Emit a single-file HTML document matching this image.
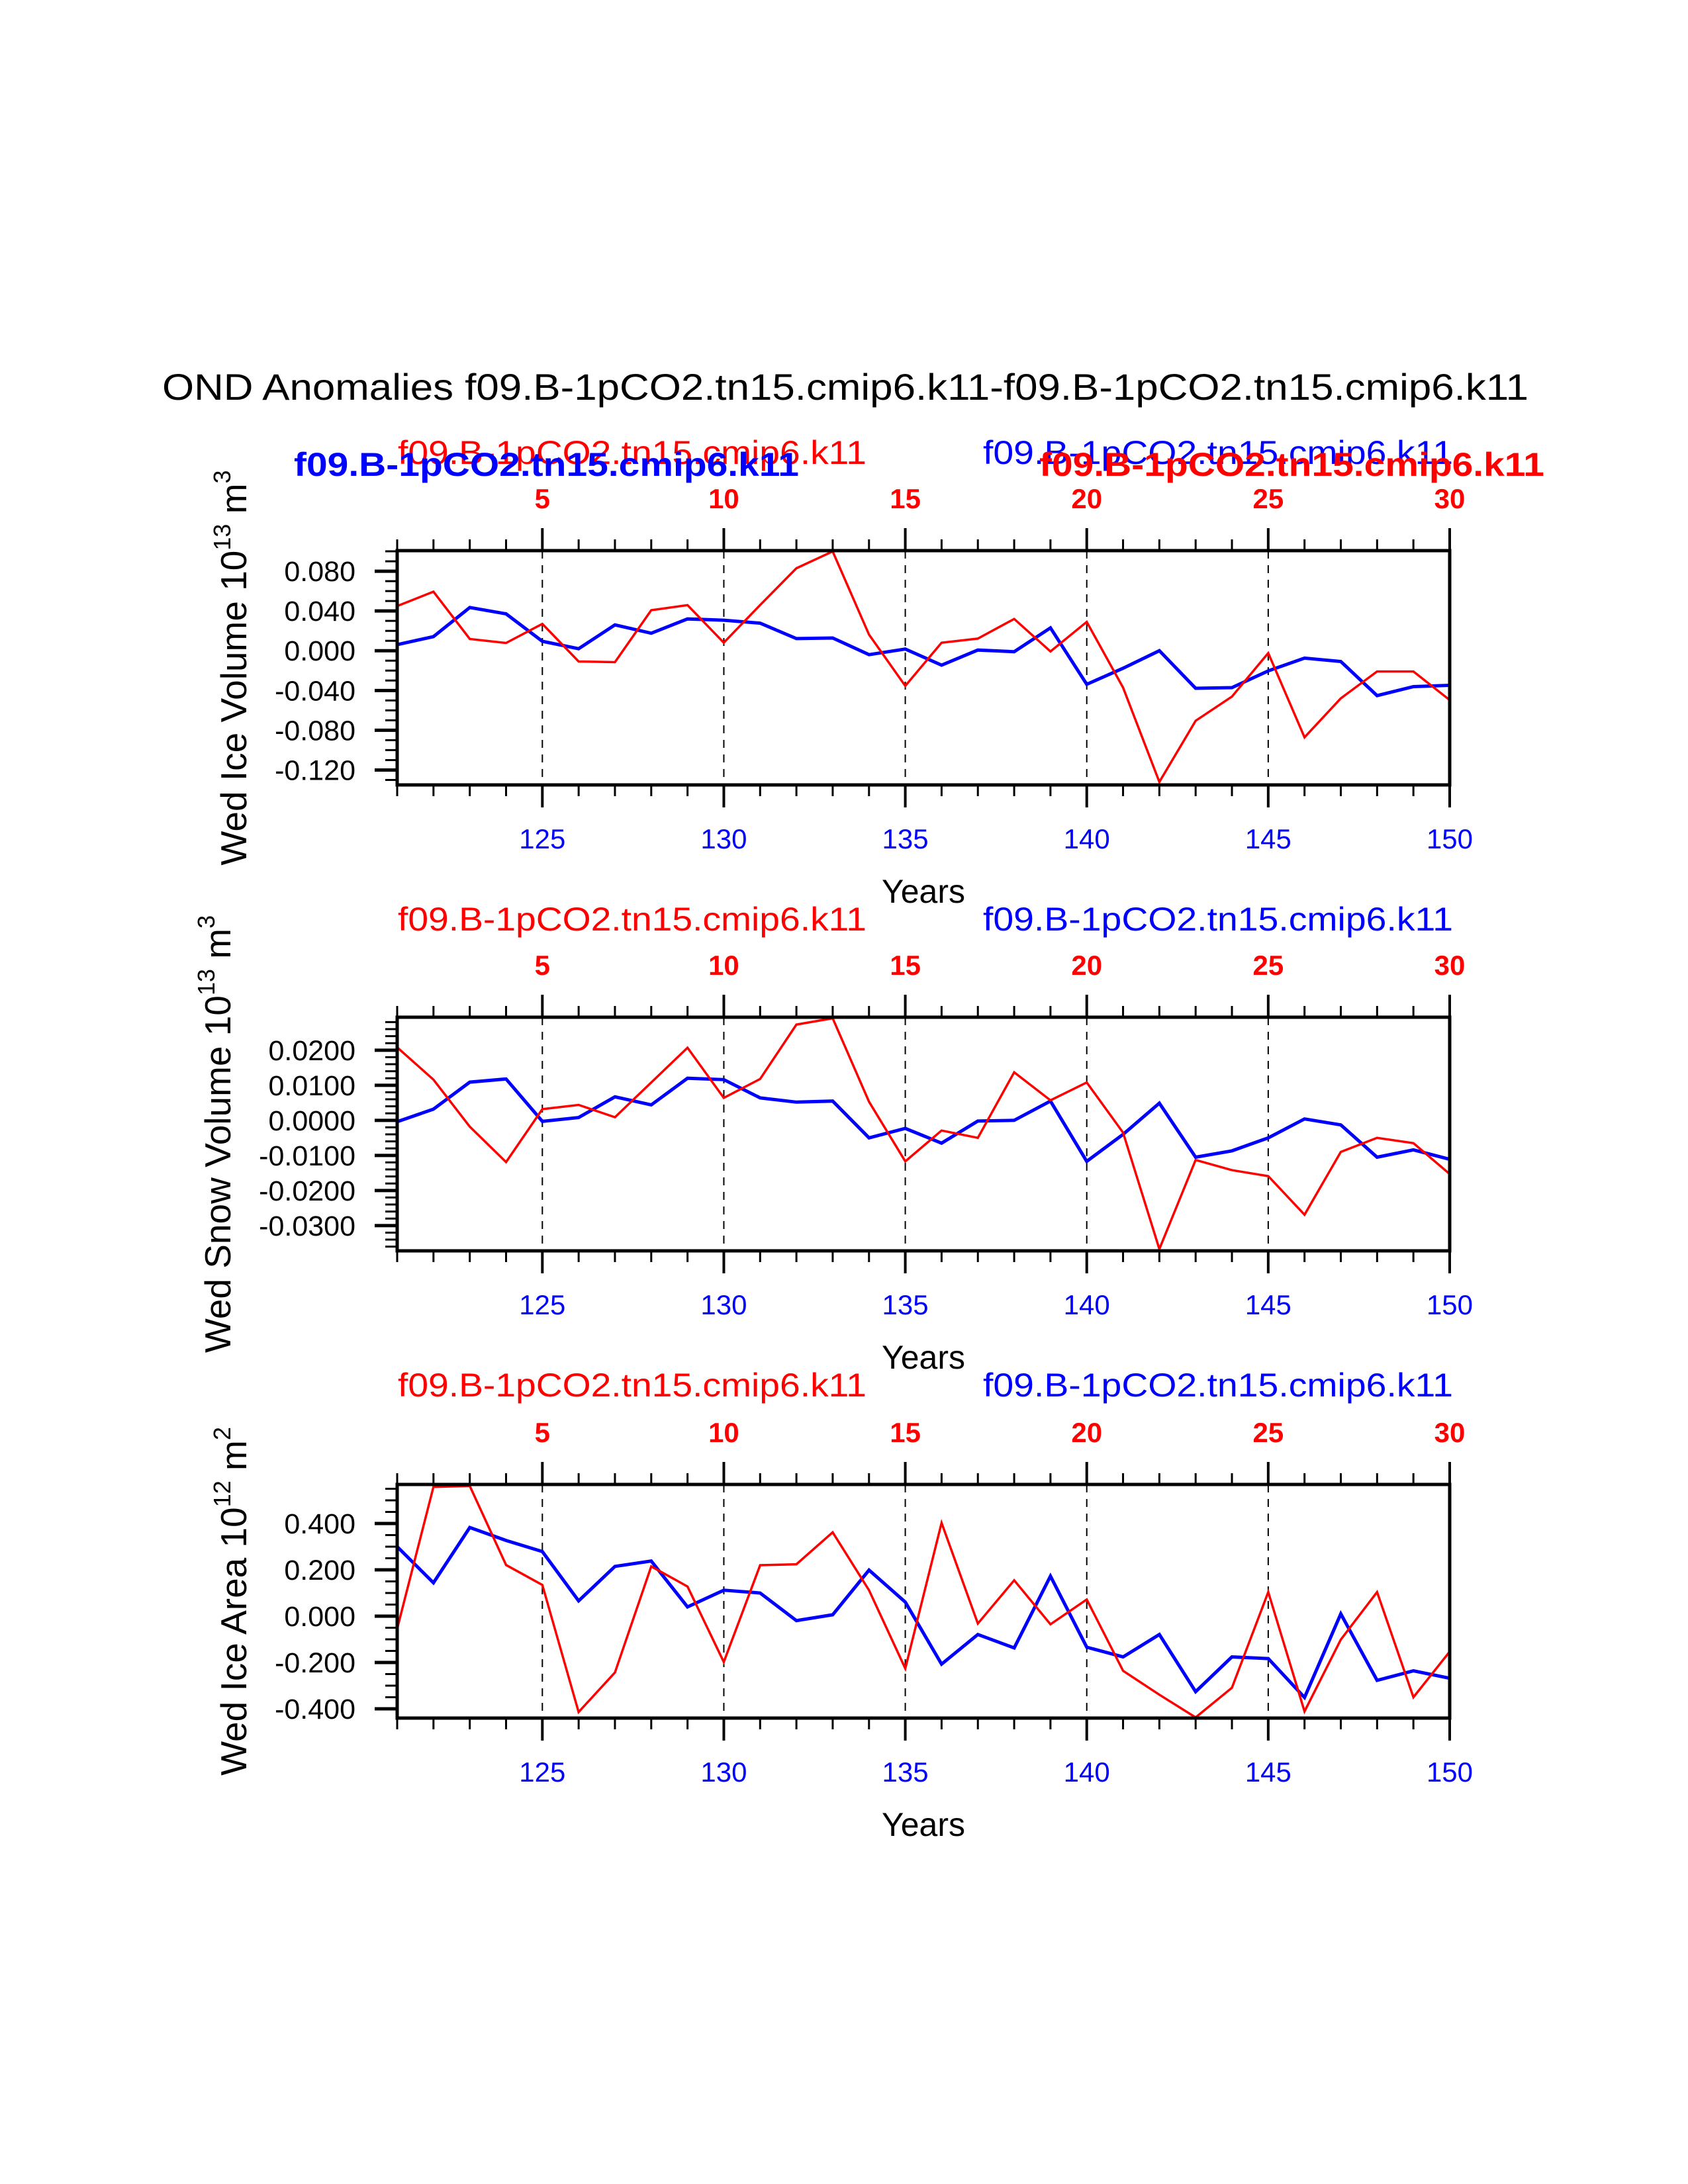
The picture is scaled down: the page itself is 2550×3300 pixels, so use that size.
<!DOCTYPE html>
<html><head><meta charset="utf-8">
<style>
html,body{margin:0;padding:0;background:#fff;}
svg{display:block;font-family:"Liberation Sans",Arial,sans-serif;}
</style></head>
<body>
<svg id="chart" width="2550" height="3300" viewBox="0 0 2550 3300" xmlns="http://www.w3.org/2000/svg">
<rect width="2550" height="3300" fill="#fff"/>
<text x="1277" y="604" font-size="56" text-anchor="middle" textLength="2064" lengthAdjust="spacingAndGlyphs">OND Anomalies f09.B-1pCO2.tn15.cmip6.k11-f09.B-1pCO2.tn15.cmip6.k11</text>
</svg>
<script>
const years = [121,122,123,124,125,126,127,128,129,130,131,132,133,134,135,136,137,138,139,140,141,142,143,144,145,146,147,148,149,150];
const bottomTicks = [125,130,135,140,145,150];
const topTickLabels = ["5","10","15","20","25","30"];

const iceVolRed = [0.0449,0.0594,0.0118,0.0078,0.027,-0.0108,-0.0115,0.0408,0.0459,0.0081,0.046,0.083,0.0999,0.0162,-0.0354,0.0081,0.0122,0.032,-0.0007,0.029,-0.0371,-0.132,-0.0705,-0.0462,-0.0024,-0.0871,-0.0479,-0.0209,-0.0209,-0.0496];
const iceVolBlue = [0.0061,0.0142,0.0435,0.0371,0.0095,0.002,0.026,0.0176,0.032,0.0307,0.0277,0.0122,0.0128,-0.004,0.0017,-0.0145,0.0007,-0.001,0.023,-0.0338,-0.0176,0,-0.0378,-0.0371,-0.0203,-0.0074,-0.0108,-0.0452,-0.0361,-0.0348];
const iceVolTicks = [0.08,0.04,0,-0.04,-0.08,-0.12];
const iceVolTickLabels = ["0.080","0.040","0.000","-0.040","-0.080","-0.120"];

const snowRed = [0.0208,0.0116,-0.0018,-0.0119,0.0032,0.0044,0.0009,0.0108,0.0207,0.0064,0.0118,0.0273,0.0291,0.0053,-0.0117,-0.0029,-0.005,0.0137,0.0057,0.0108,-0.0035,-0.0367,-0.0113,-0.0142,-0.0159,-0.0269,-0.009,-0.005,-0.0065,-0.0153];
const snowBlue = [-0.0004,0.0032,0.0109,0.0118,-0.0003,0.0008,0.0067,0.0044,0.012,0.0116,0.0064,0.0052,0.0055,-0.005,-0.0023,-0.0065,-0.0002,0,0.0055,-0.0117,-0.004,0.0049,-0.0105,-0.0087,-0.005,0.0004,-0.0013,-0.0105,-0.0084,-0.0111];
const snowTicks = [0.02,0.01,0,-0.01,-0.02,-0.03];
const snowTickLabels = ["0.0200","0.0100","0.0000","-0.0100","-0.0200","-0.0300"];

const areaRed = [-0.054,0.558,0.562,0.221,0.135,-0.414,-0.243,0.215,0.128,-0.198,0.220,0.224,0.362,0.112,-0.226,0.403,-0.032,0.155,-0.035,0.072,-0.236,-0.339,-0.437,-0.309,0.104,-0.411,-0.101,0.104,-0.350,-0.153];
const areaBlue = [0.300,0.144,0.383,0.327,0.279,0.066,0.215,0.238,0.040,0.112,0.100,-0.019,0.006,0.199,0.061,-0.207,-0.079,-0.137,0.173,-0.134,-0.176,-0.079,-0.326,-0.176,-0.183,-0.351,0.010,-0.277,-0.236,-0.268];
const areaTicks = [0.4,0.2,0,-0.2,-0.4];
const areaTickLabels = ["0.400","0.200","0.000","-0.200","-0.400"];

const NS = "http://www.w3.org/2000/svg";
const svg = document.getElementById("chart");
function mk(tag, attrs, parent){
  const e = document.createElementNS(NS, tag);
  for (const k in attrs) e.setAttribute(k, attrs[k]);
  (parent||svg).appendChild(e);
  return e;
}
const X0 = 600, X1 = 2190;
function xs(yr){ return X0 + (yr - 121) / (150 - 121) * (X1 - X0); }

function panel(cfg){
  const g = mk("g", {});
  
  
  const T = cfg.top, B = cfg.bottom;
  const ys = v => T + (cfg.vmax - v) / (cfg.vmax - cfg.vmin) * (B - T);
  bottomTicks.slice(0,5).forEach(yr => {
    const l = mk("line", {x1:xs(yr), x2:xs(yr), y1:T, y2:B, stroke:"#000", "stroke-width":2, "stroke-dasharray":"12,10"}, g);
    
    
  });
  [[cfg.blue,"#0000ff",5,"blue-series"],[cfg.red,"#ff0000",3.5,"red-series"]].forEach(s => {
    const pts = years.map((yr,i) => xs(yr).toFixed(1) + "," + ys(s[0][i]).toFixed(1)).join(" ");
    const p = mk("polyline", {points:pts, fill:"none", stroke:s[1], "stroke-width":s[2], "stroke-linejoin":"miter"}, g);
    
    
  });
  const f = mk("rect", {x:X0, y:T, width:X1-X0, height:B-T, fill:"none", stroke:"#000", "stroke-width":5}, g);
  
  
  years.forEach(yr => {
    const major = yr % 5 === 0;
    const len = major ? 34 : 17;
    mk("line", {x1:xs(yr), x2:xs(yr), y1:T, y2:T-len, stroke:"#000", "stroke-width":major?4:3}, g);
    mk("line", {x1:xs(yr), x2:xs(yr), y1:B, y2:B+len, stroke:"#000", "stroke-width":major?4:3}, g);
  });
  bottomTicks.forEach((yr,i) => {
    const t = mk("text", {x:xs(yr), y:B+96, "font-size":42, fill:"#0000ff", "text-anchor":"middle"}, g);
    t.textContent = String(yr);
    
    
    const t2 = mk("text", {x:xs(yr), y:T-64, "font-size":42, "font-weight":"bold", fill:"#ff0000", "text-anchor":"middle"}, g);
    t2.textContent = topTickLabels[i];
    
    
  });
  const start = Math.ceil(cfg.vmin / cfg.minor - 1e-6);
  for (let k = start; k * cfg.minor <= cfg.vmax + 1e-9; k++){
    const y = ys(k * cfg.minor);
    mk("line", {x1:X0, x2:X0-18, y1:y, y2:y, stroke:"#000", "stroke-width":3}, g);
  }
  cfg.ticks.forEach((v,i) => {
    const y = ys(v);
    mk("line", {x1:X0, x2:X0-34, y1:y, y2:y, stroke:"#000", "stroke-width":5}, g);
    const t = mk("text", {x:537, y:y+15, "font-size":43, "text-anchor":"end"}, g);
    t.textContent = cfg.tickLabels[i];
    
    
  });
  const yt = mk("text", {transform:"translate(" + cfg.titleX + "," + ((T+B)/2) + ") rotate(-90)", "font-size":55, "text-anchor":"middle"}, g);
  
  
  const parts = [[cfg.title,0],[cfg.exp1,1],[" m",0],[cfg.exp2,1]];
  parts.forEach(p => {
    const ts = mk("tspan", {}, yt);
    if (p[1]) { ts.setAttribute("font-size", "36"); ts.setAttribute("dy", "-24"); }
    else if (ts.previousSibling) { ts.setAttribute("dy", "24"); }
    ts.textContent = p[0];
  });
  const xt = mk("text", {x:1395, y:B+178, "font-size":50, "text-anchor":"middle"}, g);
  xt.textContent = "Years";
  
  
  cfg.labels.forEach(L => {
    const t = mk("text", {x:L.x, y:L.y, "font-size":L.fs, fill:L.c, "font-weight":L.b?"bold":"normal", textLength:L.w, lengthAdjust:"spacingAndGlyphs"}, g);
    t.textContent = "f09.B-1pCO2.tn15.cmip6.k11";
    
    
  });
}

panel({name:"ice-volume-panel", top:832, bottom:1186, vmax:0.1007, vmin:-0.135, minor:0.01,
  red:iceVolRed, blue:iceVolBlue, ticks:iceVolTicks, tickLabels:iceVolTickLabels,
  title:"Wed Ice Volume 10", exp1:"13", exp2:"3", titleX:372,
  labels:[{x:601,y:701,fs:50,c:"#ff0000",b:false,w:708,n:"red-case-label"},
          {x:444,y:719,fs:50,c:"#0000ff",b:true,w:763,n:"blue-case-label-bold"},
          {x:1485,y:701,fs:50,c:"#0000ff",b:false,w:710,n:"blue-case-label"},
          {x:1570,y:719,fs:50,c:"#ff0000",b:true,w:763,n:"red-case-label-bold"}]});
panel({name:"snow-volume-panel", top:1537, bottom:1890, vmax:0.0294, vmin:-0.0372, minor:0.002,
  red:snowRed, blue:snowBlue, ticks:snowTicks, tickLabels:snowTickLabels,
  title:"Wed Snow Volume 10", exp1:"13", exp2:"3", titleX:348,
  labels:[{x:601,y:1406,fs:50,c:"#ff0000",b:false,w:708,n:"red-case-label"},
          {x:1485,y:1406,fs:50,c:"#0000ff",b:false,w:710,n:"blue-case-label"}]});
panel({name:"ice-area-panel", top:2243, bottom:2596, vmax:0.5686, vmin:-0.44, minor:0.05,
  red:areaRed, blue:areaBlue, ticks:areaTicks, tickLabels:areaTickLabels,
  title:"Wed Ice Area 10", exp1:"12", exp2:"2", titleX:372,
  labels:[{x:601,y:2110,fs:50,c:"#ff0000",b:false,w:708,n:"red-case-label"},
          {x:1485,y:2110,fs:50,c:"#0000ff",b:false,w:710,n:"blue-case-label"}]});
</script>
</body></html>
